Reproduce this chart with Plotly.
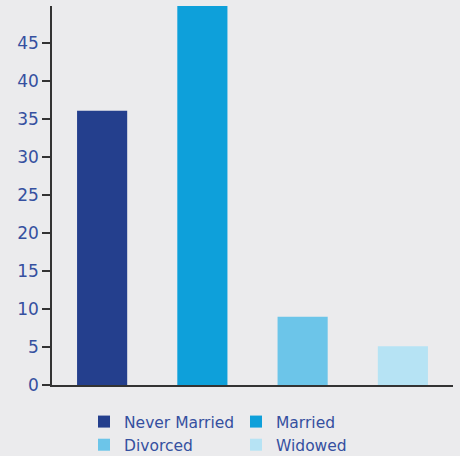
import plotly.graph_objects as go

categories = ["Never Married", "Married", "Divorced", "Widowed"]
values = [36.1, 50.0, 9.0, 5.1]
colors = ["#243f8d", "#0ea0da", "#6cc5e9", "#b6e3f4"]
y_ticks = [0, 5, 10, 15, 20, 25, 30, 35, 40, 45]

fig = go.Figure()
for c, v, col in zip(categories, values, colors):
    fig.add_trace(go.Bar(x=[c], y=[v], name=c, marker=dict(color=col, line=dict(width=0)),
                         hoverinfo="x+y"))

fig.update_layout(
    width=460, height=456,
    margin=dict(l=52, r=7, t=6, b=71),
    paper_bgcolor="#ebebed", plot_bgcolor="#ebebed",
    barmode="overlay", bargap=0.5,
    font=dict(family="DejaVu Sans", size=15, color="#3550a0"),
    showlegend=True,
    legend=dict(orientation="h", xref="container", yref="container",
                x=84 / 460, xanchor="left", y=1 - 405 / 456, yanchor="top",
                entrywidth=107, entrywidthmode="pixels", traceorder="normal",
                font=dict(family="DejaVu Sans", size=15.5, color="#3550a0"),
                bgcolor="rgba(0,0,0,0)"),
)
fig.update_xaxes(showticklabels=False, showgrid=False, zeroline=False, showline=True,
                 linecolor="#333333", linewidth=1.5, ticks="", fixedrange=True)
fig.update_yaxes(range=[0, 49.9], tickvals=y_ticks, showgrid=False, zeroline=False,
                 showline=True, linecolor="#333333", linewidth=1.5, ticks="outside",
                 ticklen=8, tickwidth=1.5, tickcolor="#333333",
                 tickfont=dict(family="DejaVu Sans", size=17, color="#3550a0"),
                 fixedrange=True)

fig.write_html("out.html")
